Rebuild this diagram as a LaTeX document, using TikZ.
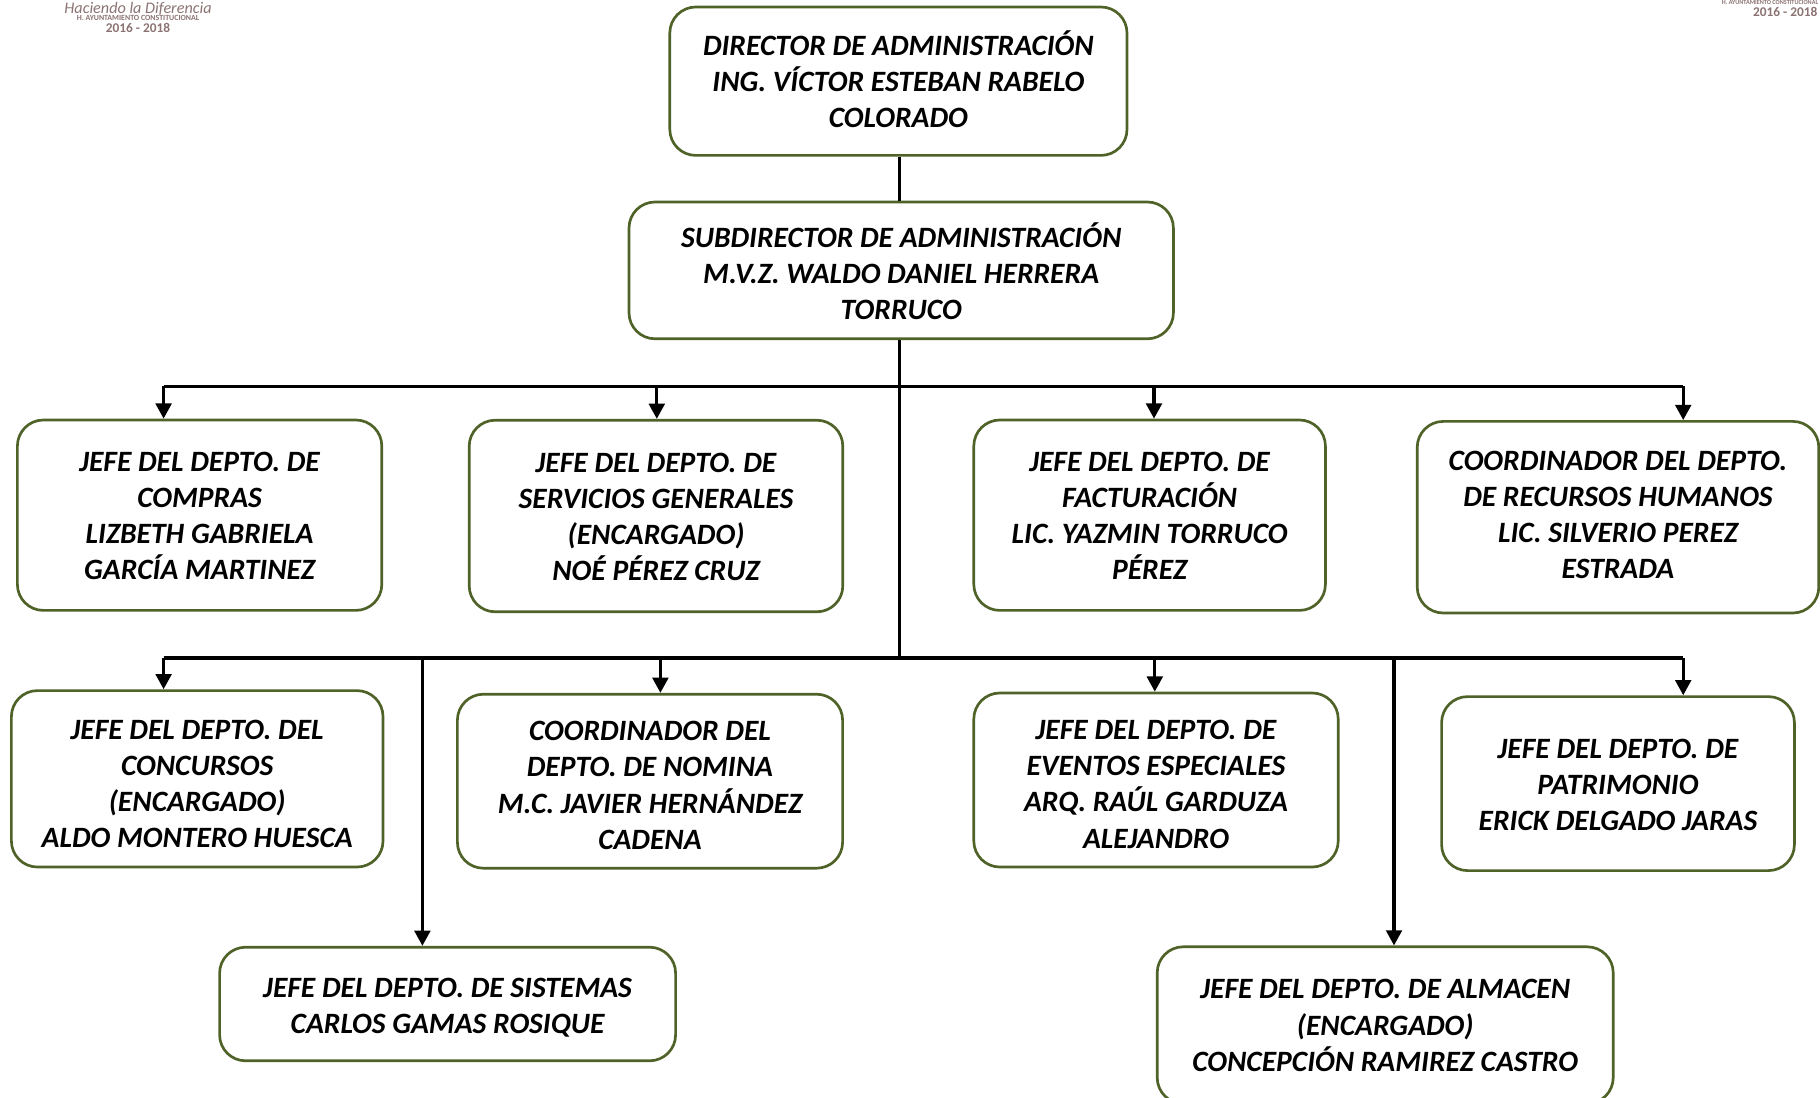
\documentclass[tikz,border=0pt]{standalone}
\usepackage{fontspec}
\setmainfont{Carlito}
\usetikzlibrary{positioning, arrows.meta}
\definecolor{verdeborde}{HTML}{4F6228}
\newcommand{\bajar}[1]{\rule{0pt}{\dimexpr 20pt+#1\relax}} % moves the text inside its box
\tikzset{
  organigrama/.style={
	node distance=4cm, % center to center
	every node/.style={inner sep=0pt},
  },
  unidad/.style={
	draw=verdeborde, line width=1.9pt, fill=white, rounded corners=0.65cm, align=center,
	font=\fontsize{21}{25.7}\selectfont\bfseries\itshape,
	execute at end node={\rule[-6pt]{0pt}{6pt}},
  },
  linea/.style={draw=black, line width=2.35pt},
  flecha/.style={linea, -{Triangle[length=0.38cm, width=0.39cm]}, shorten >=0pt},
  logo/.style={text=gray!90!red, align=center},
}

\begin{document}
\begin{tikzpicture}[organigrama]
\useasboundingbox (0,0) rectangle (45.5,-27.425);
\node[logo, font=\fontsize{11.5}{12}\selectfont\itshape] (logoa) at (3.45,-0.22) {Haciendo la Diferencia};
\node[logo, font=\fontsize{5.6}{6}\selectfont\bfseries] (logob) at (3.45,-0.45) {H. AYUNTAMIENTO CONSTITUCIONAL};
\node[logo, font=\fontsize{9.5}{10}\selectfont\bfseries] (logoc) at (3.45,-0.7) {2016 - 2018};
\node[logo, font=\fontsize{4.4}{5}\selectfont\bfseries] (logod) at (44.25,-0.07) {H. AYUNTAMIENTO CONSTITUCIONAL};
\node[logo, font=\fontsize{9.5}{10}\selectfont\bfseries] (logoe) at (44.63,-0.3) {2016 - 2018};

\node[unidad, minimum width=11.43cm, minimum height=3.71cm] (director) at (22.46,-2.03) {\bajar{0.04cm}DIRECTOR DE ADMINISTRACIÓN\\ING. VÍCTOR ESTEBAN RABELO\\COLORADO};
\node[unidad, minimum width=13.61cm, minimum height=3.42cm, below of=director, yshift=-0.73cm, xshift=0.07cm] (subdir) {\bajar{0.18cm}SUBDIRECTOR DE ADMINISTRACIÓN\\M.V.Z. WALDO DANIEL HERRERA\\TORRUCO};
\node[unidad, minimum width=9.11cm, minimum height=4.76cm, below of=subdir, yshift=-2.12cm, xshift=-17.54cm] (compras) {\bajar{0.03cm}JEFE DEL DEPTO. DE\\COMPRAS\\LIZBETH GABRIELA\\GARCÍA MARTINEZ};
\node[unidad, minimum width=9.34cm, minimum height=4.79cm, right of=compras, yshift=-0.02cm, xshift=7.41cm] (servicios) {\bajar{0.03cm}JEFE DEL DEPTO. DE\\SERVICIOS GENERALES\\(ENCARGADO)\\NOÉ PÉREZ CRUZ};
\node[unidad, minimum width=8.79cm, minimum height=4.76cm, right of=servicios, yshift=0.02cm, xshift=8.34cm] (facturacion) {\bajar{0.03cm}JEFE DEL DEPTO. DE\\FACTURACIÓN\\LIC. YAZMIN TORRUCO\\PÉREZ};
\node[unidad, minimum width=10.04cm, minimum height=4.79cm, right of=facturacion, yshift=-0.05cm, xshift=7.71cm] (recursos) {\bajar{-0.116cm}COORDINADOR DEL DEPTO.\\DE RECURSOS HUMANOS\\LIC. SILVERIO PEREZ\\ESTRADA};
\node[unidad, minimum width=9.29cm, minimum height=4.41cm, below of=compras, yshift=-2.59cm, xshift=-0.06cm] (concursos) {\bajar{0.232cm}JEFE DEL DEPTO. DEL\\CONCURSOS\\(ENCARGADO)\\ALDO MONTERO HUESCA};
\node[unidad, minimum width=9.63cm, minimum height=4.35cm, right of=concursos, yshift=-0.06cm, xshift=7.32cm] (nomina) {\bajar{0.2cm}COORDINADOR DEL\\DEPTO. DE NOMINA\\M.C. JAVIER HERNÁNDEZ\\CADENA};
\node[unidad, minimum width=9.11cm, minimum height=4.35cm, right of=nomina, yshift=0.03cm, xshift=8.65cm] (eventos) {\bajar{0.2cm}JEFE DEL DEPTO. DE\\EVENTOS ESPECIALES\\ARQ. RAÚL GARDUZA\\ALEJANDRO};
\node[unidad, minimum width=8.82cm, minimum height=4.35cm, right of=eventos, yshift=-0.09cm, xshift=7.55cm] (patrimonio) {\bajar{0.058cm}JEFE DEL DEPTO. DE\\PATRIMONIO\\ERICK DELGADO JARAS};
\node[unidad, minimum width=11.40cm, minimum height=2.84cm, below of=concursos, yshift=-1.63cm, xshift=6.26cm] (sistemas) {\bajar{0.084cm}JEFE DEL DEPTO. DE SISTEMAS\\CARLOS GAMAS ROSIQUE};
\node[unidad, minimum width=11.40cm, minimum height=3.92cm, right of=sistemas, yshift=-0.53cm, xshift=19.44cm] (almacen) {\bajar{0cm}JEFE DEL DEPTO. DE ALMACEN\\(ENCARGADO)\\CONCEPCIÓN RAMIREZ CASTRO};

\coordinate (ramaa) at (22.49,-9.66);
\coordinate (ramab) at (22.49,-16.45);
\coordinate (ramacompras) at (4.09,-9.66);
\coordinate (ramaservicios) at (16.42,-9.66);
\coordinate (ramafacturacion) at (28.85,-9.66);
\coordinate (ramarecursos) at (42.08,-9.66);
\coordinate (ramaconcursos) at (4.09,-16.45);
\coordinate (ramasistemas) at (10.56,-16.45);
\coordinate (ramanomina) at (16.51,-16.45);
\coordinate (ramaeventos) at (28.87,-16.45);
\coordinate (ramaalmacen) at (34.85,-16.45);
\coordinate (ramapatrimonio) at (42.08,-16.45);

\draw[linea] (ramaa |- director.south) -- (ramaa |- subdir.north);
\draw[linea] (ramaa |- subdir.south) -- (ramab);
\draw[linea] (ramacompras) -- (ramarecursos);
\draw[linea] (ramaconcursos) -- (ramapatrimonio);
\draw[flecha] (ramacompras) -- (ramacompras |- compras.north);
\draw[flecha] (ramaservicios) -- (ramaservicios |- servicios.north);
\draw[flecha] (ramafacturacion) -- (ramafacturacion |- facturacion.north);
\draw[flecha] (ramarecursos) -- (ramarecursos |- recursos.north);
\draw[flecha] (ramaconcursos) -- (ramaconcursos |- concursos.north);
\draw[flecha] (ramasistemas) -- (ramasistemas |- sistemas.north);
\draw[flecha] (ramanomina) -- (ramanomina |- nomina.north);
\draw[flecha] (ramaeventos) -- (ramaeventos |- eventos.north);
\draw[flecha] (ramaalmacen) -- (ramaalmacen |- almacen.north);
\draw[flecha] (ramapatrimonio) -- (ramapatrimonio |- patrimonio.north);
\end{tikzpicture}
\end{document}
